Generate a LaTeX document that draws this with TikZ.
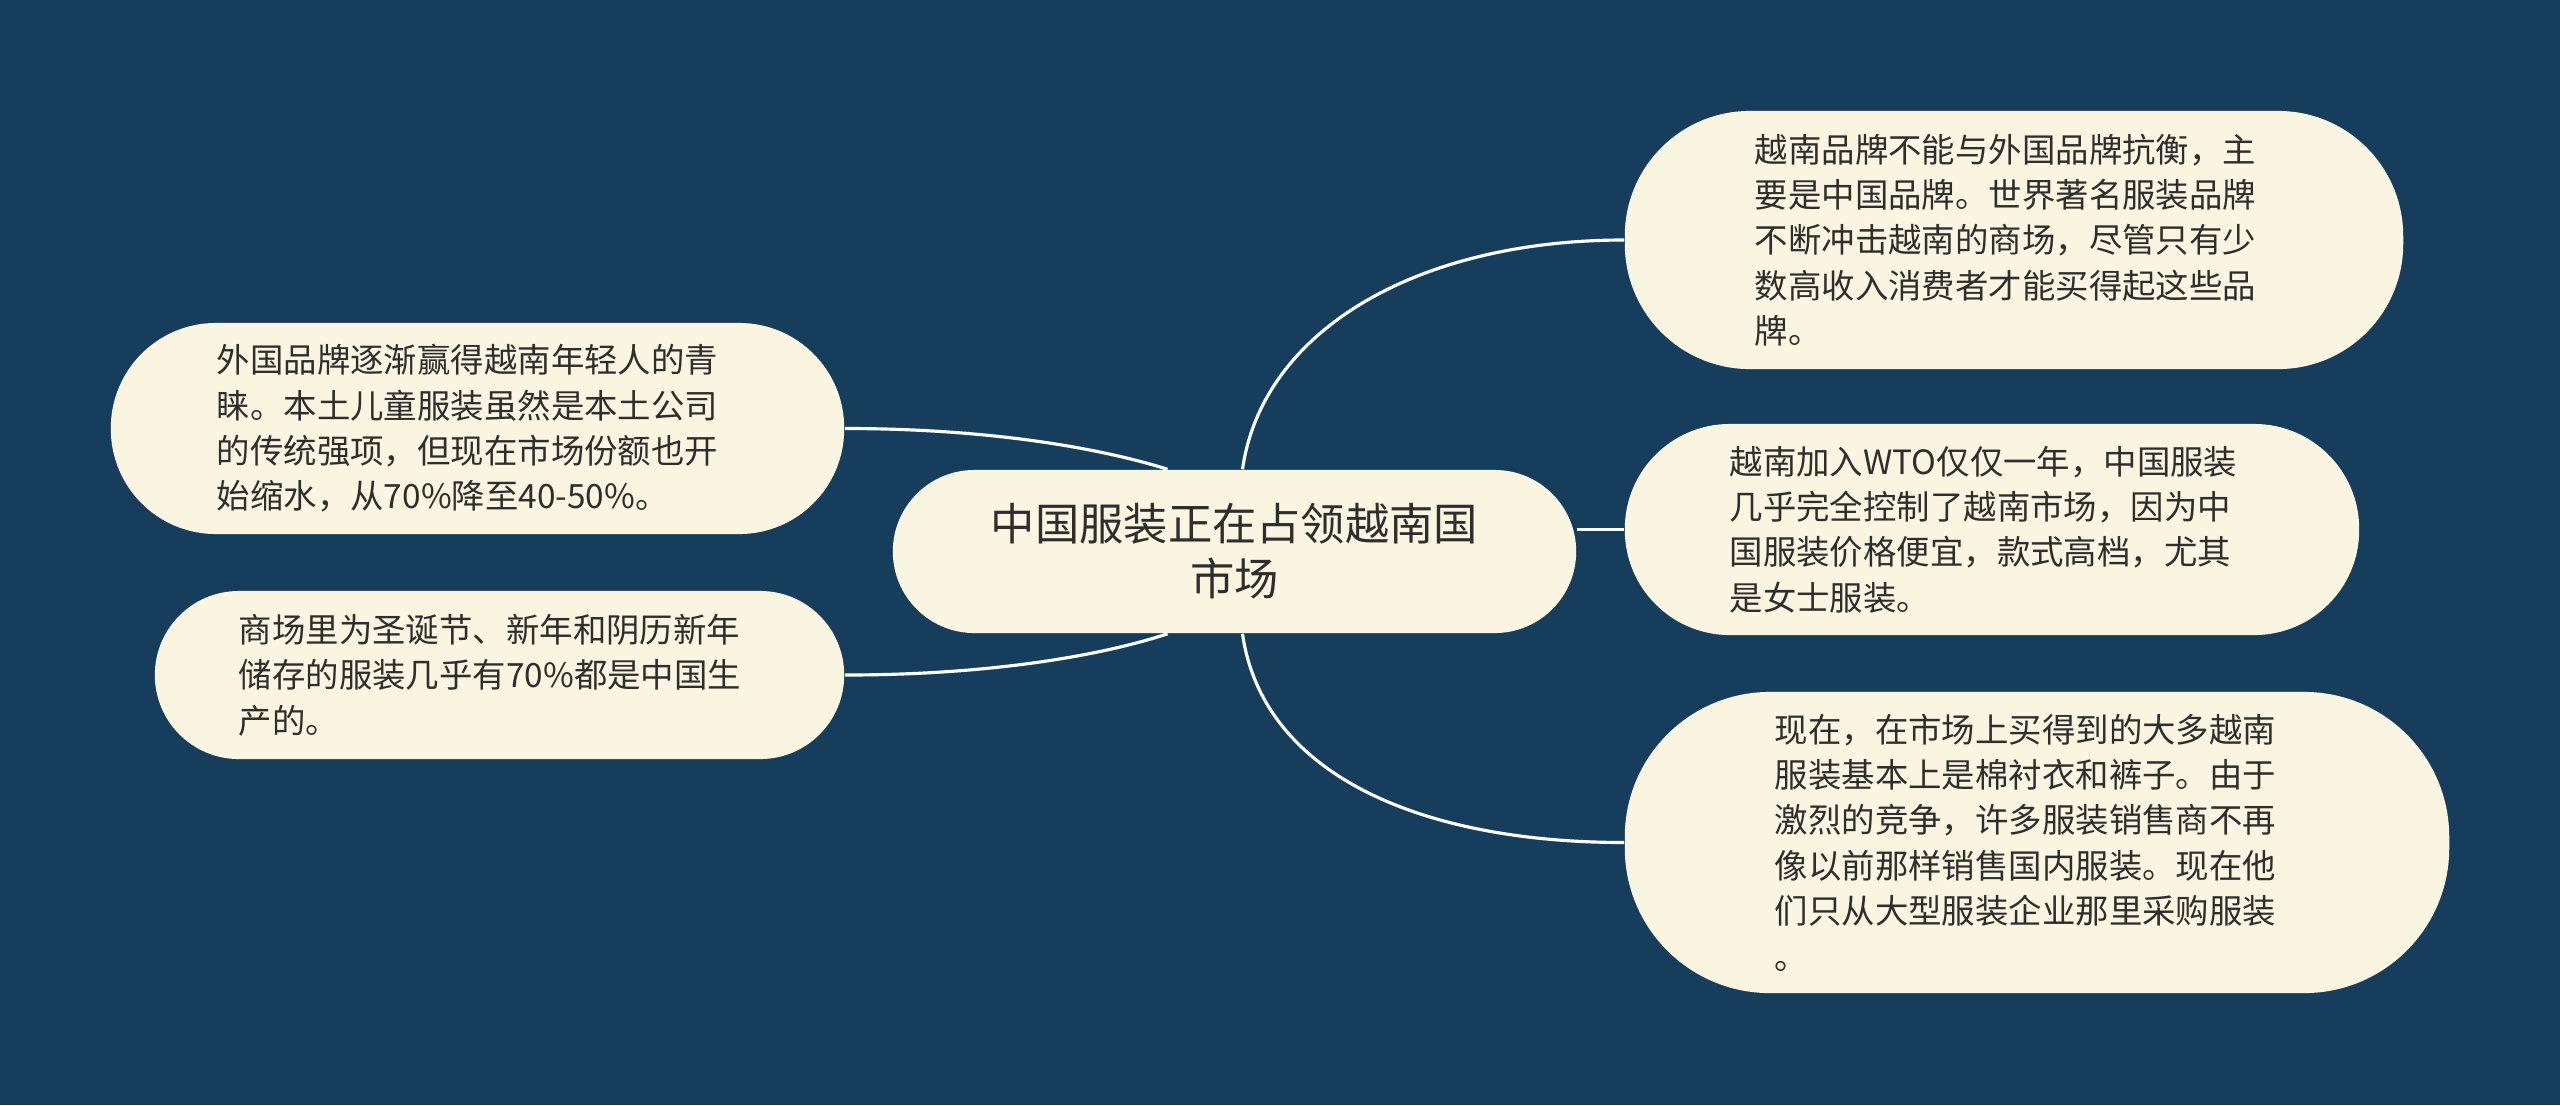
\documentclass[tikz,border=0pt]{standalone}
\usepackage{fontspec}
\newfontfamily\cjk{Noto Sans CJK SC}
\usetikzlibrary{calc}
\definecolor{bgblue}{HTML}{173D5D}
\definecolor{cream}{HTML}{FAF5E1}
\definecolor{txt}{HTML}{2E2E2E}
\newcommand{\padr}[1]{\rule{#1}{0pt}}
\tikzset{
  topic/.style={fill=cream, text=txt, inner sep=0pt, align=left,
    font=\cjk\fontsize{9.5}{12.9}\selectfont},
  maintopic/.style={fill=cream, text=txt, inner sep=0pt, align=center,
    font=\cjk\fontsize{12.6}{15.6}\selectfont},
  link/.style={draw=white, line width=0.9pt}
}
\begin{document}
\begin{tikzpicture}[x=0.01cm, y=-0.01cm]
\fill[bgblue] (0,0) rectangle (2560,1105);
\useasboundingbox (0,0) rectangle (2560,1105);

\node[maintopic, minimum width=6.83cm, minimum height=1.63cm, rounded corners=0.815cm] (C) at (1234.5,551.5)
  {中国服装正在占领越南国\\市场};

\node[topic, minimum width=7.33cm, minimum height=2.11cm, rounded corners=1.05cm] (L1) at (477.5,428.5)
  {外国品牌逐渐赢得越南年轻人的青\padr{0.2cm}\\睐。本土儿童服装虽然是本土公司\\的传统强项，但现在市场份额也开\\始缩水，从70\%降至40-50\%。};

\node[topic, minimum width=6.89cm, minimum height=1.68cm, rounded corners=0.84cm] (L2) at (499.5,675)
  {商场里为圣诞节、新年和阴历新年\padr{0.2cm}\\储存的服装几乎有70\%都是中国生\\产的。};

\node[topic, minimum width=7.78cm, minimum height=2.58cm, rounded corners=1.25cm] (R1) at (2014,240)
  {越南品牌不能与外国品牌抗衡，主\padr{0.17cm}\\要是中国品牌。世界著名服装品牌\\不断冲击越南的商场，尽管只有少\\数高收入消费者才能买得起这些品\\牌。};

\node[topic, minimum width=7.34cm, minimum height=2.11cm, rounded corners=1.05cm] (R2) at (1992,529.5)
  {越南加入WTO仅仅一年，中国服装\padr{0.17cm}\\几乎完全控制了越南市场，因为中\\国服装价格便宜，款式高档，尤其\\是女士服装。};

\node[topic, minimum width=8.24cm, minimum height=3.01cm, rounded corners=1.45cm] (R3) at (2037,842.5)
  {现在，在市场上买得到的大多越南\padr{0.23cm}\\服装基本上是棉衬衣和裤子。由于\\激烈的竞争，许多服装销售商不再\\像以前那样销售国内服装。现在他\\们只从大型服装企业那里采购服装\\。};

% connectors
\draw[link] (L1.east) .. controls ($(L1.east)+(156,0)$) and ($(C.north)+(-124,-18)$) .. ($(C.north)+(-67,0)$);
\draw[link] (L2.east) .. controls ($(L2.east)+(156,0)$) and ($(C.south)+(-124,19)$) .. ($(C.south)+(-67,0)$);
\draw[link] ($(C.north)+(8,0)$) .. controls ($(C.north)+(28,-140)$) and ($(R1.west)+(-205,0)$) .. (R1.west);
\draw[link] (C.east |- R2.west) -- (R2.west);
\draw[link] ($(C.south)+(8,0)$) .. controls ($(C.south)+(28,140)$) and ($(R3.west)+(-205,0)$) .. (R3.west);
\end{tikzpicture}
\end{document}
